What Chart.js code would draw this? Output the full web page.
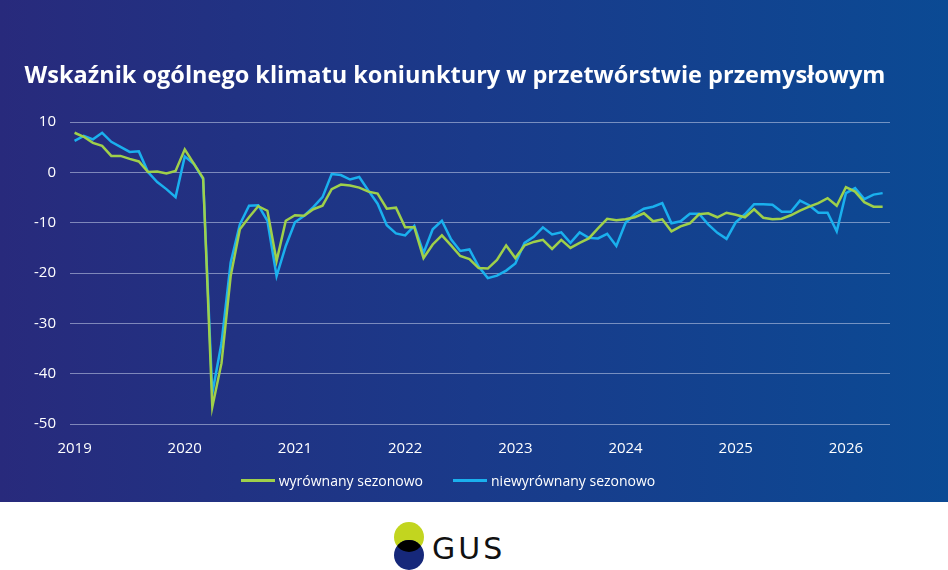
<!DOCTYPE html>
<html>
<head>
<meta charset="utf-8">
<script src="https://cdn.jsdelivr.net/npm/chart.js@4"></script>
<style>
  body { margin: 0; width: 948px; height: 570px; overflow: hidden; background: #fff; font-family: "Open Sans", sans-serif; }
  #panel { position: absolute; left: 0; top: 0; width: 948px; height: 502px;
           background: linear-gradient(90deg, #282a7c 0%, #1a3a8a 50%, #0b4a94 100%); }
  #legenda { position: absolute; left: -26px; top: 467px; width: 948px; text-align: center; color: #fff; font-size: 14px; }
  #legenda span { display: inline-flex; align-items: center; margin: 0 15px; }
  #legenda i { display: inline-block; width: 34px; height: 3px; margin-right: 4px; }
  #logo { position: absolute; left: 390px; top: 520px; }
</style>
</head>
<body>
<div id="panel"><canvas id="wykres" width="948" height="502"></canvas></div>
<div id="legenda"></div>
<svg id="logo" width="130" height="50" viewBox="0 0 130 50">
  <defs><clipPath id="gora"><ellipse cx="19" cy="17" rx="15" ry="15"/></clipPath></defs>
  <ellipse cx="19" cy="17" rx="15" ry="15" fill="#c2d51f"/>
  <ellipse cx="19" cy="35" rx="15" ry="15" fill="#16287a"/>
  <ellipse cx="19" cy="35" rx="15" ry="15" fill="#000" clip-path="url(#gora)"/>
  <text x="42" y="39" font-family="DejaVu Sans" font-size="30" letter-spacing="3" fill="#111">GUS</text>
</svg>
<script>
const miesiace = [];
for (let i = 0; i < 89; i++) miesiace.push(i);

const wyrownany = [
  7.9, 7.1, 5.9, 5.3, 3.3, 3.3, 2.7, 2.2, 0.1, 0.2, -0.2, 0.3,
  4.6, 1.7, -1.1, -46.6, -37.9, -20.6, -11.3, -8.9, -6.7, -7.6, -17.6, -9.6,
  -8.5, -8.6, -7.3, -6.6, -3.3, -2.4, -2.6, -3.0, -3.8, -4.2, -7.2, -7.0,
  -10.9, -10.9, -17.0, -14.3, -12.5, -14.5, -16.6, -17.2, -19.0, -19.1, -17.4, -14.5,
  -17.0, -14.5, -13.8, -13.4, -15.2, -13.4, -15.0, -14.0, -13.1, -11.1, -9.2, -9.5,
  -9.3, -8.9, -8.1, -9.7, -9.3, -11.7, -10.7, -10.1, -8.3, -8.1, -8.9, -8.0,
  -8.4, -8.9, -7.3, -9.0, -9.3, -9.2, -8.5, -7.6, -6.8, -6.1, -5.1, -6.6,
  -2.9, -3.8, -5.9, -6.8, -6.8
];

const niewyrownany = [
  6.3, 7.3, 6.6, 7.9, 6.1, 5.1, 4.1, 4.2, 0.1, -1.9, -3.3, -4.9,
  3.2, 1.7, -1.3, -43.9, -33.9, -17.9, -10.3, -6.6, -6.5, -9.6, -20.6, -14.6,
  -9.9, -8.6, -6.9, -4.9, -0.3, -0.5, -1.4, -0.9, -3.6, -6.2, -10.5, -12.1,
  -12.5, -10.6, -16.0, -11.3, -9.6, -13.3, -15.6, -15.3, -18.7, -21.0, -20.5, -19.5,
  -18.1, -14.0, -12.8, -10.9, -12.3, -11.9, -14.0, -11.9, -13.0, -13.1, -12.2, -14.6,
  -10.0, -8.3, -7.2, -6.8, -6.1, -10.1, -9.7, -8.2, -8.2, -10.3, -12.0, -13.2,
  -9.9, -8.3, -6.3, -6.3, -6.4, -7.8, -7.8, -5.6, -6.5, -8.0, -8.0, -11.7,
  -4.1, -3.1, -5.3, -4.4, -4.1
];

const lata = [2019, 2020, 2021, 2022, 2023, 2024, 2025, 2026];
const ticksY = [10, 0, -10, -20, -30, -40, -50];

const punkty = seria => seria.map((v, i) => ({ x: miesiace[i], y: v }));

const wykres = new Chart(document.getElementById('wykres'), {
  type: 'line',
  data: {
    datasets: [
      { label: 'wyrównany sezonowo', data: punkty(wyrownany), borderColor: '#9fd04a',
        backgroundColor: '#9fd04a', borderWidth: 2.5, pointRadius: 0, tension: 0 },
      { label: 'niewyrównany sezonowo', data: punkty(niewyrownany), borderColor: '#1ab0ee',
        backgroundColor: '#1ab0ee', borderWidth: 2.5, pointRadius: 0, tension: 0 }
    ]
  },
  options: {
    responsive: false,
    animation: false,
    layout: { padding: { left: 20, right: 58, bottom: 36 } },
    scales: {
      x: {
        type: 'linear', min: -0.5, max: 88.8,
        afterBuildTicks: axis => { axis.ticks = lata.map((r, i) => ({ value: i * 12 })); },
        ticks: { color: '#fff', font: { size: 15, family: 'Open Sans' }, padding: 8,
                 callback: v => lata[v / 12] },
        grid: { display: false }, border: { display: false }
      },
      y: {
        min: -50, max: 10,
        afterBuildTicks: axis => { axis.ticks = ticksY.map(v => ({ value: v })); },
        ticks: { color: '#fff', font: { size: 15, family: 'Open Sans' }, padding: 14 },
        grid: { color: 'rgba(200,210,235,0.55)', lineWidth: 1, drawTicks: false },
        border: { display: false }
      }
    },
    plugins: {
      title: { display: true, text: 'Wskaźnik ogólnego klimatu koniunktury w przetwórstwie przemysłowym',
               color: '#fff', font: { size: 23.5, weight: 'bold', family: 'Open Sans' },
               padding: { top: 62, bottom: 32 } },
      legend: { display: false },
      tooltip: { enabled: false }
    }
  }
});

// legenda w HTML, z tych samych zbiorów danych
const legenda = document.getElementById('legenda');
wykres.data.datasets.forEach(ds => {
  const el = document.createElement('span');
  el.innerHTML = `<i style="background:${ds.borderColor}"></i>${ds.label}`;
  legenda.appendChild(el);
});
</script>
</body>
</html>
